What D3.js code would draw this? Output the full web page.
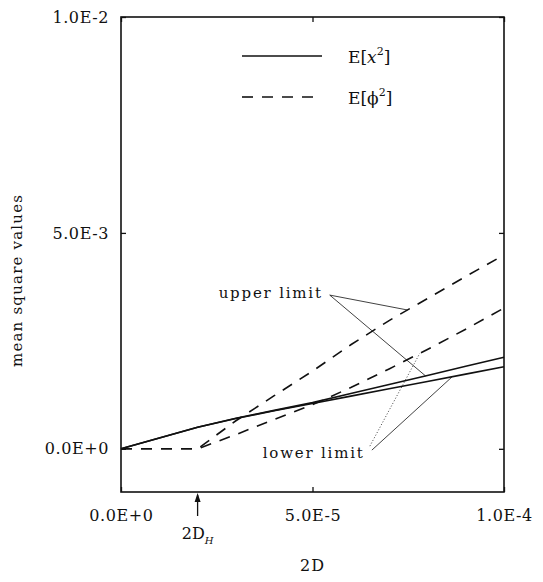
<!DOCTYPE html>
<html>
<head>
<meta charset="utf-8">
<script src="https://cdn.jsdelivr.net/npm/d3@7"></script>
<style>
  body { margin: 0; background: #fff; }
  text { font-family: "DejaVu Serif", serif; fill: #111; }
</style>
</head>
<body>
<svg id="chart" width="543" height="582"></svg>
<script>
// data
const xVals = [0, 2e-5, 3e-5, 4e-5, 5e-5, 6e-5, 7e-5, 8e-5, 9e-5, 1e-4];
const x2Upper = [0, 0.50e-3, 0.71e-3, 0.89e-3, 1.07e-3, 1.28e-3, 1.49e-3, 1.70e-3, 1.91e-3, 2.12e-3];
const x2Lower = [0, 0.50e-3, 0.70e-3, 0.88e-3, 1.05e-3, 1.22e-3, 1.39e-3, 1.56e-3, 1.73e-3, 1.90e-3];
const phiUpper = [0, 0, 0.65e-3, 1.23e-3, 1.80e-3, 2.41e-3, 2.97e-3, 3.48e-3, 3.99e-3, 4.49e-3];
const phiLower = [0, 0, 0.33e-3, 0.68e-3, 1.02e-3, 1.42e-3, 1.85e-3, 2.30e-3, 2.77e-3, 3.26e-3];

const xTicks = [0, 5e-5, 1e-4];
const xTickLabels = ['0.0E+0', '5.0E-5', '1.0E-4'];
const yTicks = [0, 5e-3, 1e-2];
const yTickLabels = ['0.0E+0', '5.0E-3', '1.0E-2'];
const markerX = 2e-5;

const margin = { top: 17, right: 39, bottom: 90, left: 121 };
const W = 543, H = 582;
const width = W - margin.left - margin.right;
const height = H - margin.top - margin.bottom;
const FONT = '"DejaVu Serif", serif';

const svg = d3.select('#chart');
const g = svg.append('g').attr('transform', `translate(${margin.left},${margin.top})`);

const x = d3.scaleLinear().domain([0, 1e-4]).range([0, width]);
const y = d3.scaleLinear().domain([-1e-3, 1e-2]).range([height, 0]);

// frame
g.append('rect')
  .attr('width', width).attr('height', height)
  .attr('fill', 'none').attr('stroke', '#111').attr('stroke-width', 1.6);

// axes (ticks pointing inward, labels drawn by the axis)
const yLab = d3.scaleOrdinal().domain(yTicks).range(yTickLabels);
const xLab = d3.scaleOrdinal().domain(xTicks).range(xTickLabels);

g.append('g')
  .call(d3.axisLeft(y).tickValues(yTicks).tickSize(-5).tickPadding(12).tickFormat(d => yLab(d)));
g.append('g').attr('transform', `translate(${width},0)`)
  .call(d3.axisRight(y).tickValues(yTicks).tickSize(-5).tickFormat(''));
g.append('g').attr('transform', `translate(0,${height})`)
  .call(d3.axisBottom(x).tickValues(xTicks).tickSize(-5).tickPadding(18).tickFormat(d => xLab(d)));
g.append('g')
  .call(d3.axisTop(x).tickValues(xTicks).tickSize(-5).tickFormat(''));

g.selectAll('.domain').remove();
g.selectAll('.tick line').attr('stroke', '#111').attr('stroke-width', 1.3);
g.selectAll('.tick text')
  .attr('font-family', FONT)
  .attr('font-size', 16)
  .style('letter-spacing', '0.6px')
  .attr('fill', '#111');

// series
const line = d3.line().x(d => x(d[0])).y(d => y(d[1]));
const series = [
  { vals: x2Upper, dash: null },
  { vals: x2Lower, dash: null },
  { vals: phiUpper, dash: '11,9' },
  { vals: phiLower, dash: '11,9' }
];
series.forEach(s => {
  g.append('path')
    .datum(xVals.map((v, i) => [v, s.vals[i]]))
    .attr('d', line)
    .attr('fill', 'none')
    .attr('stroke', '#111')
    .attr('stroke-width', 1.6)
    .attr('stroke-dasharray', s.dash);
});

// helper to find a point on a series
function at(vals, xv) {
  return d3.scaleLinear().domain(xVals).range(vals)(xv);
}

// annotations
const annStyle = sel => sel.style('font-size', '15px').style('letter-spacing', '1.8px');

g.append('text').attr('x', x(2.55e-5)).attr('y', y(3.5e-3))
  .attr('text-anchor', 'start').text('upper limit').call(annStyle);
const upFrom = [x(5.45e-5), y(3.56e-3)];
[[7.48e-5, phiUpper], [7.95e-5, x2Upper]].forEach(([xv, vals]) => {
  g.append('line')
    .attr('x1', upFrom[0]).attr('y1', upFrom[1])
    .attr('x2', x(xv)).attr('y2', y(at(vals, xv)))
    .attr('stroke', '#111').attr('stroke-width', 0.8);
});

g.append('text').attr('x', x(3.7e-5)).attr('y', y(-0.22e-3))
  .attr('text-anchor', 'start').text('lower limit').call(annStyle);
const loFrom = [x(6.55e-5), y(-0.03e-3)];
g.append('line')
  .attr('x1', loFrom[0]).attr('y1', loFrom[1])
  .attr('x2', x(8.65e-5)).attr('y2', y(at(x2Lower, 8.65e-5)))
  .attr('stroke', '#111').attr('stroke-width', 0.8);
g.append('line')
  .attr('x1', loFrom[0] - 2).attr('y1', loFrom[1] - 4)
  .attr('x2', x(7.8e-5)).attr('y2', y(at(phiLower, 7.8e-5)))
  .attr('stroke', '#111').attr('stroke-width', 0.8).attr('stroke-dasharray', '1,2');

// legend
const legend = g.append('g');
const legendItems = [
  { dash: null, y: 39, sym: 'x', italic: true },
  { dash: '11,9', y: 80, sym: 'ϕ', italic: false }
];
legendItems.forEach(it => {
  legend.append('line')
    .attr('x1', 121).attr('x2', 201).attr('y1', it.y).attr('y2', it.y)
    .attr('stroke', '#111').attr('stroke-width', 1.6)
    .attr('stroke-dasharray', it.dash);
  const t = legend.append('text').attr('x', 227).attr('y', it.y + 7)
    .style('font-size', '17px');
  t.append('tspan').text('E[');
  t.append('tspan').text(it.sym).style('font-style', it.italic ? 'italic' : 'normal');
  t.append('tspan').text('2').attr('dy', -8).style('font-size', '11px');
  t.append('tspan').text(']').attr('dy', 8);
});

// marker arrow at 2D_H
const mx = x(markerX);
g.append('line')
  .attr('x1', mx).attr('x2', mx).attr('y1', height + 3).attr('y2', height + 24)
  .attr('stroke', '#111').attr('stroke-width', 1.3);
g.append('path')
  .attr('d', `M${mx},${height + 1} L${mx - 3},${height + 10} L${mx + 3},${height + 10} Z`)
  .attr('fill', '#111');
const dh = g.append('text').attr('x', mx).attr('y', height + 47)
  .attr('text-anchor', 'middle').style('font-size', '16px');
dh.append('tspan').text('2D');
dh.append('tspan').text('H').attr('dy', 5).style('font-size', '10px').style('font-style', 'italic');

// axis titles
g.append('text').attr('x', x(5e-5)).attr('y', height + 79)
  .attr('text-anchor', 'middle').style('font-size', '16px').style('letter-spacing', '1px')
  .text('2D');
svg.append('text')
  .attr('transform', `translate(22,${margin.top + y(3.9e-3)}) rotate(-90)`)
  .attr('text-anchor', 'middle').style('font-size', '15px').style('letter-spacing', '1.2px')
  .text('mean square values');
</script>
</body>
</html>
